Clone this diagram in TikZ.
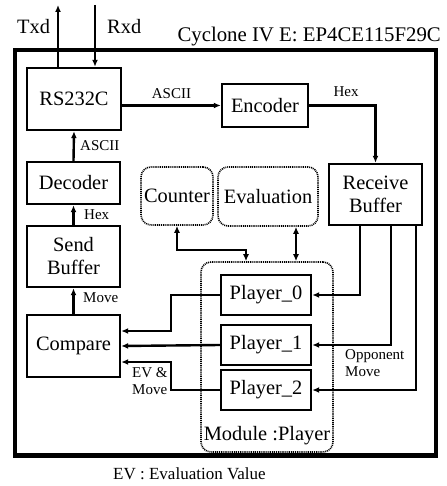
\documentclass[tikz,border=0pt]{standalone}
\usepackage{fontspec}
\setmainfont{Liberation Serif}
\usetikzlibrary{arrows.meta,calc}
\begin{document}
\begin{tikzpicture}[x=1pt,y=-1pt,
  box/.style={draw,line width=2.4pt,inner sep=0pt,font=\fontsize{20.4}{23}\selectfont,align=center},
  dbox/.style={draw,line width=1.6pt,dash pattern=on 1pt off 0.9pt,rounded corners=10pt,inner sep=0pt,font=\fontsize{20.4}{23}\selectfont,align=center},
  conn/.style={line width=2.4pt,-{Latex[length=7pt,width=6pt]}},
  dconn/.style={line width=2.4pt,{Latex[length=7pt,width=6pt]}-{Latex[length=7pt,width=6pt]}},
  lab/.style={font=\fontsize{15}{17}\selectfont,inner sep=0pt},
  big/.style={font=\fontsize{20.4}{23}\selectfont,inner sep=0pt}]
\useasboundingbox (0,0) rectangle (446,486);
% outer frame
\draw[line width=4.5pt] (15,50) rectangle (436,455.5);
\node[font=\fontsize{20.8}{23}\selectfont,inner sep=0pt,anchor=base east] (title) at (441,42) {Cyclone IV E: EP4CE115F29C};
\node[big,anchor=base west] (txdl) at (17,34) {Txd};
\node[big,anchor=base west] (rxdl) at (107,34) {Rxd};
% blocks
\node[box,minimum width=94pt,minimum height=62pt] (rs) at (74,99) {RS232C};
\node[box,minimum width=86pt,minimum height=43pt] (enc) at (265,105.5) {Encoder};
\node[box,minimum width=93pt,minimum height=61pt] (rb) at (375.5,194.5) {Receive\\Buffer};
\node[box,minimum width=93pt,minimum height=42pt] (dec) at (73.5,183) {Decoder};
\node[box,minimum width=93pt,minimum height=61pt] (sb) at (73.5,256.5) {Send\\Buffer};
\node[box,minimum width=93pt,minimum height=62pt] (cmp) at (73.5,346) {Compare};
\node[dbox,minimum width=72pt,minimum height=58pt] (cnt) at (177,196) {Counter};
\node[dbox,minimum width=100pt,minimum height=59pt] (ev) at (268,196.5) {Evaluation};
\node[dbox,minimum width=132pt,minimum height=190pt] (mod) at (267,357) {};
\node[big,anchor=base] (modl) at ($(mod.south)+(0,-12)$) {Module :Player};
\node[box,minimum width=90pt,minimum height=40pt] (p0) at (266,295) {Player\_0};
\node[box,minimum width=90pt,minimum height=40pt] (p1) at (266,345) {Player\_1};
\node[box,minimum width=90pt,minimum height=40pt] (p2) at (266,390) {Player\_2};
% free ends
\coordinate (txdtop) at (58,5);
\coordinate (rxdtop) at (95,5);
\coordinate (evx) at (296,0);
% connectors
\draw[conn] (rs.north -| txdtop) -- (txdtop);
\draw[conn] (rxdtop) -- (rs.north -| rxdtop);
\draw[conn] (rs.east |- enc.west) -- node[lab,above=6pt] {ASCII} (enc.west);
\draw[conn] (enc.east) -| (rb.north);
\node[lab] (hexl) at (346,92) {Hex};
\draw[conn] (dec.north) -- (rs.south);
\node[lab,anchor=west] (asc2) at (80,146) {ASCII};
\draw[conn] (sb.north) -- (dec.south);
\node[lab,anchor=west] (hex2) at (84,215) {Hex};
\draw[conn] (cmp.north) -- (sb.south);
\node[lab,anchor=west] (movel) at (83,298) {Move};
\draw[conn] (p0.west) -- ++(-49,0) |- ([yshift=15pt]cmp.east);
\draw[conn] (p1.west) -- (cmp.east);
\draw[conn] (p2.west) -- ++(-49,0) |- ([yshift=-16pt]cmp.east);
\node[lab,align=left,anchor=north west] (evm) at (132,367) {EV \&\\Move};
\draw[conn] ([xshift=-15.5pt]rb.south) |- (p0.east);
\draw[conn] ([xshift=15.5pt]rb.south) |- (p1.east);
\draw[conn] ([xshift=40.5pt]rb.south) |- (p2.east);
\node[lab,align=left,anchor=north west] (opp) at (345,349) {Opponent\\Move};
\draw[dconn] (cnt.south) -- ++(0,24) -| ([xshift=-21pt]mod.north);
\draw[dconn] (ev.south -| evx) -- (mod.north -| evx);
\node[font=\fontsize{17}{19}\selectfont,inner sep=0pt,anchor=base west] (cap) at (113,479) {EV : Evaluation Value};
\end{tikzpicture}
\end{document}
